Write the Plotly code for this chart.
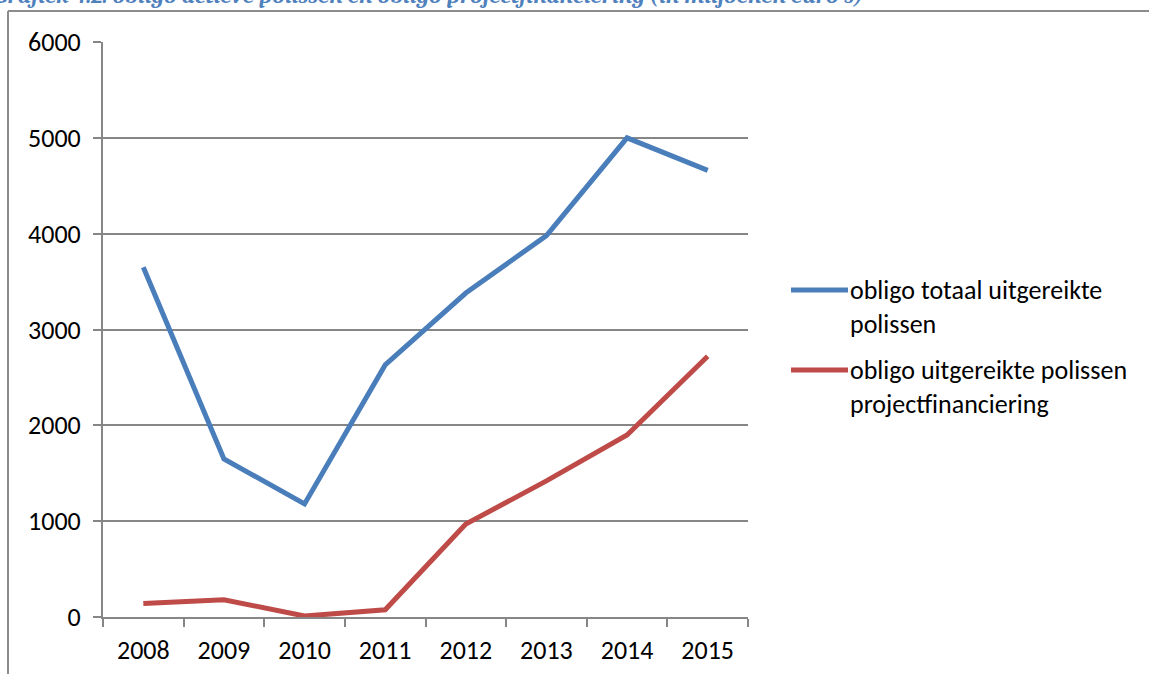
import plotly.graph_objects as go

# Jaren en obligo-bedragen (in miljoenen euro's)
years = ["2008", "2009", "2010", "2011", "2012", "2013", "2014", "2015"]
obligo_totaal = [3650, 1650, 1180, 2630, 3380, 3980, 5000, 4660]
obligo_project = [140, 180, 10, 75, 970, 1420, 1900, 2720]

series_names = [
    "obligo totaal uitgereikte<br>polissen",
    "obligo uitgereikte polissen<br>projectfinanciering",
]
series_colors = ["#4A7EBB", "#BE4B48"]
y_ticks = [0, 1000, 2000, 3000, 4000, 5000, 6000]

title_text = "Grafiek 4.2: obligo actieve polissen en obligo projectfinanciering (in miljoenen euro's)"

FONT = "Calibri, Carlito, Lato, sans-serif"
GRID = "#868686"

W, H = 1149, 674
L, R, T, B = 103, 401, 42, 57
PW, PH = W - L - R, H - T - B


def px_x(p):
    return (p - L) / PW


def px_y(p):
    return (H - B - p) / PH


fig = go.Figure()
for vals, col in zip([obligo_totaal, obligo_project], series_colors):
    fig.add_trace(go.Scatter(
        x=years, y=vals, mode="lines",
        line=dict(color=col, width=5),
        showlegend=False, hoverinfo="x+y",
    ))

shapes = []
# outer chart frame (left and top edges; the rest runs off the page)
shapes.append(dict(type="line", xref="paper", yref="paper",
                   x0=px_x(8), x1=px_x(8), y0=px_y(700), y1=px_y(11),
                   line=dict(color="#8C8C8C", width=2), layer="below"))
shapes.append(dict(type="line", xref="paper", yref="paper",
                   x0=px_x(8), x1=px_x(1200), y0=px_y(11), y1=px_y(11),
                   line=dict(color="#8C8C8C", width=2), layer="below"))

annotations = []
# legend entries
legend_rows = [(290, 323), (370, 403)]
for name, col, (ya, yb) in zip(series_names, series_colors, legend_rows):
    shapes.append(dict(type="line", xref="paper", yref="paper",
                       x0=px_x(791), x1=px_x(848), y0=px_y(ya), y1=px_y(ya),
                       line=dict(color=col, width=5)))
    annotations.append(dict(
        text=name, xref="paper", yref="paper",
        x=px_x(848), y=px_y((ya + yb) / 2), xanchor="left", yanchor="middle",
        align="left", showarrow=False,
        font=dict(family=FONT, size=26, color="#000000"),
    ))

annotations.append(dict(
    text="<b><i>" + title_text + "</i></b>", xref="paper", yref="paper",
    x=px_x(-8), y=px_y(-4), xanchor="left", yanchor="middle",
    showarrow=False,
    font=dict(family="Cambria, 'Liberation Serif', serif", size=23, color="#4F81BD"),
))

fig.update_layout(
    width=W, height=H,
    margin=dict(l=L, r=R, t=T, b=B, autoexpand=False),
    paper_bgcolor="white", plot_bgcolor="white",
    shapes=shapes, annotations=annotations,
    xaxis=dict(
        type="category", tickson="boundaries", range=[-0.5, len(years) - 0.5],
        ticks="outside", ticklen=8, tickcolor=GRID, tickwidth=2,
        showline=True, linecolor=GRID, linewidth=2,
        showgrid=False, ticklabelstandoff=9, automargin=False,
        tickfont=dict(family=FONT, size=26, color="#000000"),
    ),
    yaxis=dict(
        range=[0, 6000], tickvals=y_ticks,
        ticks="outside", ticklen=8, tickcolor=GRID, tickwidth=2,
        showline=True, linecolor=GRID, linewidth=2,
        showgrid=True, gridcolor=GRID, gridwidth=2,
        zeroline=False, ticklabelstandoff=7, automargin=False,
        tickfont=dict(family=FONT, size=26, color="#000000"),
    ),
)

fig.write_html("out.html")
